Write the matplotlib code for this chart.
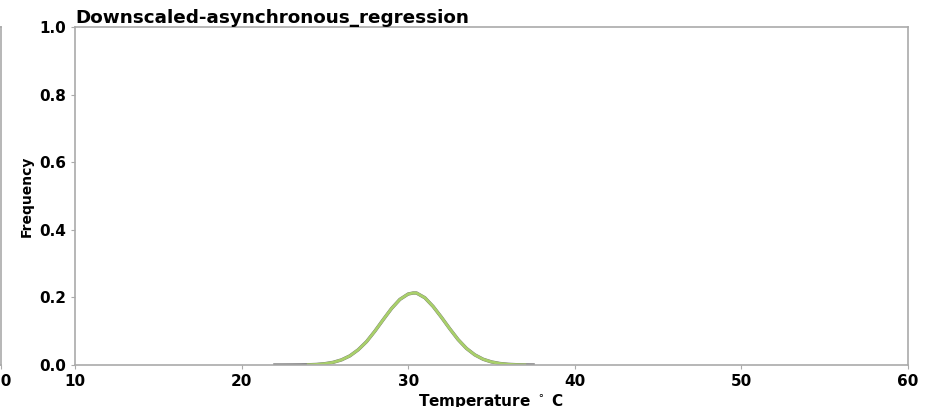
import matplotlib.pyplot as plt

# values
temp = [22.0, 22.5, 23.0, 23.5, 24.0, 24.5, 25.0, 25.5, 26.0, 26.5, 27.0, 27.5, 28.0,
        28.5, 29.0, 29.5, 30.0, 30.3, 30.5, 31.0, 31.5, 32.0, 32.5, 33.0, 33.5, 34.0,
        34.5, 35.0, 35.5, 36.0, 36.5, 37.0, 37.5]
freq = [0.0000, 0.0000, 0.0001, 0.0003, 0.0007, 0.0017, 0.0039, 0.0079, 0.0152, 0.027,
        0.045, 0.069, 0.100, 0.134, 0.167, 0.194, 0.210, 0.213, 0.213, 0.199, 0.173,
        0.141, 0.107, 0.075, 0.049, 0.030, 0.017, 0.0091, 0.0045, 0.0021, 0.0009,
        0.0003, 0.0001]
xticks = [10, 20, 30, 40, 50, 60]
yticks = [0.0, 0.2, 0.4, 0.6, 0.8, 1.0]

fig = plt.figure(figsize=(9.28, 4.07), dpi=100)

# neighbouring subplot, cut off at the left border
ax0 = fig.add_axes([-0.9, 0.1032, 0.9012, 0.8305])
ax0.set_xlim(10, 60)
ax0.set_ylim(0, 1)
ax0.set_xticks(xticks)
ax0.set_yticks([])
for s in ax0.spines.values():
    s.set_color('#aaaaaa')
    s.set_linewidth(1.2)
ax0.tick_params(colors='#aaaaaa', labelcolor='black', length=3)
for lab in ax0.get_xticklabels():
    lab.set_fontweight('bold')
    lab.set_fontsize(11)

ax = fig.add_axes([0.0808, 0.1032, 0.8976, 0.8305])
ax.plot(temp, freq, color='#777777', lw=2.4)
ax.plot(temp[4:-1], freq[4:-1], color='#a9d06a', lw=2.0)
ax.set_xlim(10, 60)
ax.set_ylim(0, 1)
ax.set_xticks(xticks)
ax.set_yticks(yticks)
for s in ax.spines.values():
    s.set_color('#aaaaaa')
    s.set_linewidth(1.2)
ax.tick_params(colors='#aaaaaa', labelcolor='black', length=3)
for lab in ax.get_xticklabels() + ax.get_yticklabels():
    lab.set_fontweight('bold')
    lab.set_fontsize(11)
ax.set_title('Downscaled-asynchronous_regression', loc='left', fontsize=13.2,
             fontweight='bold', pad=3)
ax.set_xlabel(r'Temperature $^\circ$ C', fontsize=11, fontweight='bold', labelpad=2)
ax.set_ylabel('Frequency', fontsize=10, fontweight='bold', labelpad=4)

fig.savefig('out.png', dpi=100)
